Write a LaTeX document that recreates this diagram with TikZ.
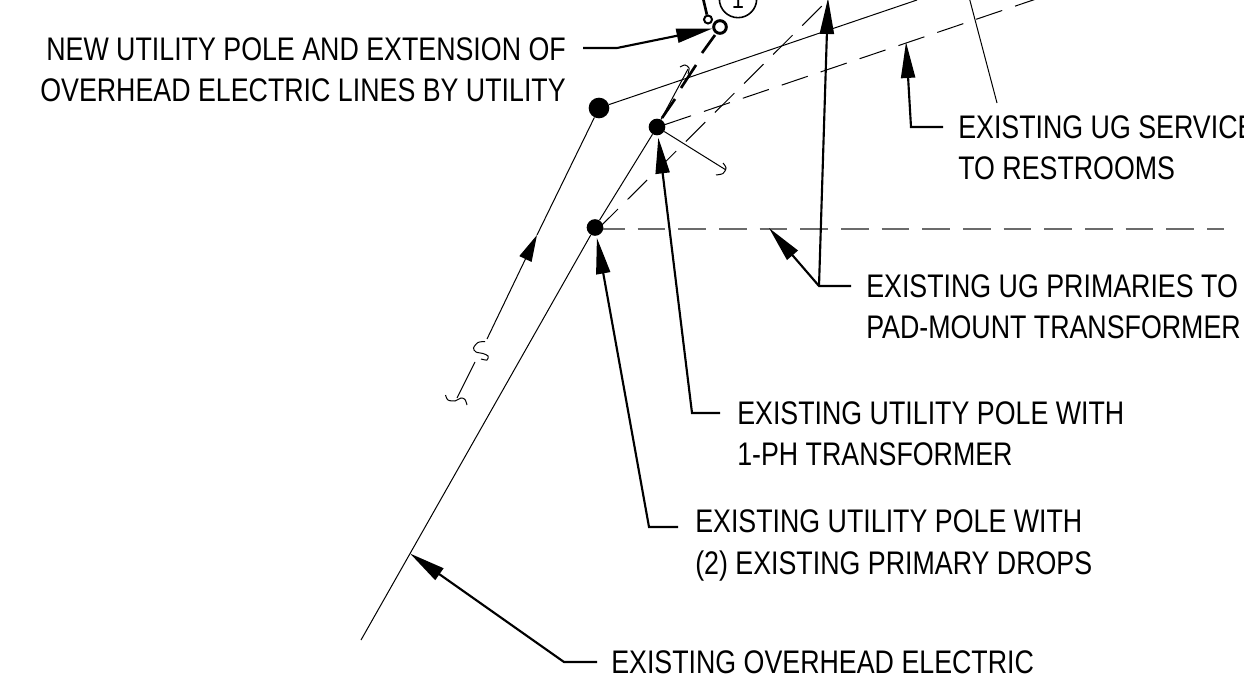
\documentclass[tikz,border=0pt]{standalone}
\usepackage{fontspec}
\setmainfont[FakeStretch=0.82]{Liberation Sans}
\usetikzlibrary{arrows.meta}
\tikzset{
  thinline/.style={line width=0.75pt,black},
  heavy/.style={line width=2pt,black},
  leader/.style={line width=1.6pt,black,line join=miter,-{Triangle[length=27pt,width=10.5pt]}},
  flow/.style={thinline,-{Triangle[length=20pt,width=10pt]}},
  ugdash/.style={thinline,dash pattern=on 20.6pt off 10.2pt},
  primdash/.style={line width=1pt,black!58,dash pattern=on 20.8pt off 9.7pt},
  pole/.style={circle,fill=black,draw=none,inner sep=0pt,minimum size=#1},
  opole/.style={circle,draw=black,fill=white,line width=2.2pt,inner sep=0pt,minimum size=#1},
  label/.style={font=\fontsize{24.5pt}{30.8pt}\selectfont,inner sep=0pt,align=left,anchor=west,black},
}
\begin{document}
\begin{tikzpicture}[x=0.75pt,y=-0.75pt]
\useasboundingbox (0,0) rectangle (1244,691);
\clip (0,0) rectangle (1244,691);
\fill[white] (0,0) rectangle (1244,691);
% free ends
\coordinate (ohstart) at (361,640);
\coordinate (ohup) at (688,69);
\coordinate (sv1) at (917,0);
\coordinate (dropend) at (726,170);
\coordinate (ug1end) at (1045,-4);
\coordinate (ug2end) at (846,-18);
\coordinate (ug2start) at (598.5,228.4);
\coordinate (primstart) at (597,229);
\coordinate (primend) at (1224,229);
\coordinate (svA) at (969,-3);
\coordinate (svB) at (997,103);
% underground dashed lines
\coordinate (ug1start) at (665,124.6);
\draw[ugdash] (ug1start) -- (ug1end);
\draw[ugdash] (ug2start) -- (ug2end);
\draw[primdash] (primstart) -- (primend);
% poles
\node[pole=12.5pt] (poleA) at (595,227.5) {};
\node[pole=12.5pt] (poleB) at (657,127) {};
\node[pole=15.5pt] (poleC) at (599,108) {};
% overhead lines
\draw[thinline] (ohstart) -- (poleA);
\draw[thinline] (poleA) -- (poleB);
\draw[thinline] (poleB) -- (ohup);
\draw[thinline] (poleC) -- (sv1);
\draw[thinline] (poleB) -- (dropend);
\draw[thinline] (svA) -- (svB);
% heavy extension pieces
\coordinate (h1a) at (662,118); \coordinate (h1b) at (675,99);
\coordinate (h2a) at (681,88);  \coordinate (h2b) at (696,65);
\coordinate (h3a) at (702,53);  \coordinate (h3b) at (715,35);
\draw[heavy] (h1a) -- (h1b);
\draw[heavy] (h2a) -- (h2b);
\draw[heavy] (h3a) -- (h3b);
% new pole, small pole, tag
\coordinate (ntop) at (703,-2);
\node[opole=9.5pt] (npole) at (720,27) {};
\node[circle,draw=black,line width=1.5pt,inner sep=0pt,minimum size=6pt] (guy) at (708,19.5) {};
\draw[heavy] (ntop) -- (guy);
\node[circle,draw=black,line width=1.2pt,inner sep=0pt,minimum size=28pt,font=\fontsize{20pt}{20pt}\selectfont] (tag) at (738,-1) {1};
% flow line with arrow, S symbol and break
\coordinate (sA) at (487,339);
\coordinate (sB) at (475,362);
\coordinate (sC) at (457,398);
\coordinate (sT) at (537,235);
\draw[flow] (sA) -- (sT);
\draw[thinline] (poleC) -- (sT);
\draw[thinline] (sB) -- (sC);
\draw[thinline] plot[smooth] coordinates {(485,341.5) (478,342.5) (473.5,348) (476,352) (483,353.5) (488,356) (487,360) (481,359)};
\draw[thinline] plot[smooth] coordinates {(445.5,395) (448,400) (455,401) (461,398) (465,399.5) (467,405)};
% break arcs
\draw[thinline] plot[smooth] coordinates {(680,67) (685,65) (689,68) (688,74)};
\draw[thinline] plot[smooth] coordinates {(723,163) (726,168) (723,173.5) (716,175)};
% labels
\node[label,align=right,anchor=east] (lnew) at (566,69.5) {NEW UTILITY POLE AND EXTENSION OF\\OVERHEAD ELECTRIC LINES BY UTILITY};
\node[label] (lsvc) at (958,148) {EXISTING UG SERVICE\\TO RESTROOMS};
\node[label] (lprim) at (866,306.5) {EXISTING UG PRIMARIES TO\\PAD-MOUNT TRANSFORMER};
\node[label] (ltx) at (737,433.5) {EXISTING UTILITY POLE WITH\\1-PH TRANSFORMER};
\node[label] (ldrops) at (695,545.5) {EXISTING UTILITY POLE WITH\\(2) EXISTING PRIMARY DROPS};
\node[label] (loh) at (611,662) {EXISTING OVERHEAD ELECTRIC};
% leaders
\coordinate (n1) at (583,48); \coordinate (n2) at (617,48);
\draw[leader] (n1) -- (n2) -- (npole);
\coordinate (t1) at (720,413); \coordinate (t2) at (692,413);
\draw[leader,shorten >=1.5pt] (t1) -- (t2) -- (poleB);
\coordinate (d1) at (678,527); \coordinate (d2) at (649,527);
\draw[leader,shorten >=1.5pt] (d1) -- (d2) -- (poleA);
\coordinate (o1) at (597,662); \coordinate (o2) at (564,662); \coordinate (o3) at (410,553.5);
\draw[leader] (o1) -- (o2) -- (o3);
\coordinate (p1) at (851,286); \coordinate (p2) at (819,286);
\coordinate (p3) at (769,228); \coordinate (p4) at (828,-2);
\draw[leader] (p1) -- (p2) -- (p3);
\draw[leader] (p2) -- (p4);
\coordinate (u1) at (943,127); \coordinate (u2) at (911,127); \coordinate (u3) at (906,42);
\draw[leader] (u1) -- (u2) -- (u3);
\end{tikzpicture}
\end{document}
